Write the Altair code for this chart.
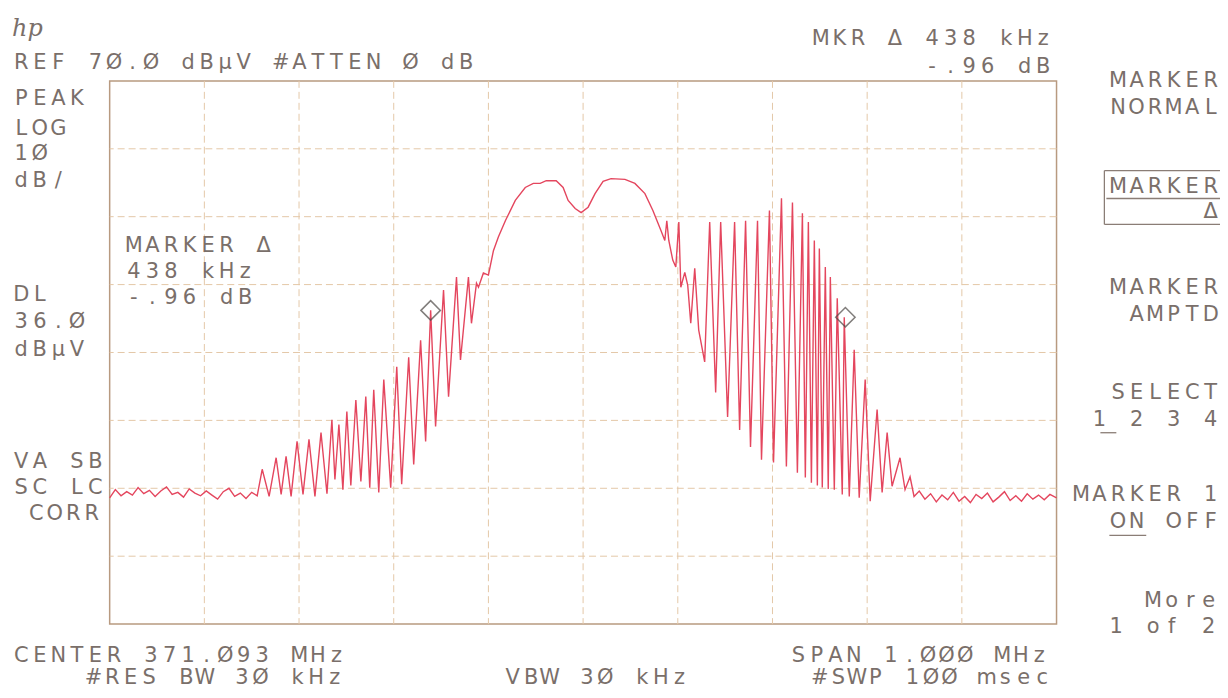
import altair as alt
import pandas as pd

# ---- trace (offset from centre in kHz, level in dBuV) ----
freq_khz = [
    -500, -494, -488, -482, -476, -470, -464, -458, -452, -446, -440, -434, -428,
    -422, -416, -410, -404, -398, -392, -386, -380, -374, -368, -362, -356, -350,
    -344.2, -338.9, -331.6, -324.2, -318.9, -313.7, -308.4, -302.1, -295.8, -289.5,
    -283.2, -276.8, -270.5, -265.3, -262.1, -257.9, -253.7, -249.5, -245.3, -240.0,
    -234.7, -229.5, -225.3, -221.1, -215.8, -210.5, -203.2, -196.8, -191.6, -184.2,
    -178.9, -171.6, -166.3, -161.0, -155.8, -147.4, -142.1, -133.7, -129.5, -121.1,
    -117.9, -112.6,
    -110.5, -105.3, -100.0, -94.7, -89.5, -82.1, -71.6, -61.1, -52.6, -45.3,
    -38.9, -28.4, -21.1, -15.8, -8.4, -2.1, 5.3, 12.6, 21.1, 29.5,
    44.2, 54.7, 65.3, 73.7, 82.1, 86.3, 88.4, 90.5, 94.7, 97.9,
    101.1, 103.2, 107.4, 110.5, 113.7, 117.9, 122.1, 128.4,
    133.7, 140.0, 145.3, 152.6, 160.0, 165.3, 171.6, 176.8, 184.2, 188.4,
    196.8, 201.1, 209.5, 214.7, 221.1, 226.3, 231.6, 234.7, 237.9, 241.1,
    244.2, 247.4, 249.5, 252.6, 255.8, 258.9, 261.1, 265.3, 268.4, 273.7,
    275.8, 281.1, 286.3, 291.6, 297.9, 303.2, 310.5, 315.8, 321.1, 326.3,
    334.7, 340.0, 345.3, 349.5,
    355, 361, 367, 373, 379, 385, 391, 397, 403, 409, 415, 421, 427, 433, 439,
    445, 451, 457, 463, 469, 475, 481, 487, 493, 500,
]
level_dbuv = [
    8.6, 9.8, 8.9, 9.5, 9.0, 10.1, 9.2, 9.7, 8.8, 9.6, 10.2, 9.1, 9.4,
    8.7, 9.9, 9.3, 8.9, 9.6, 9.0, 8.4, 9.5, 10.0, 8.8, 9.3, 8.5, 9.4,
    8.9, 12.8, 8.8, 14.5, 9.1, 14.7, 8.8, 16.9, 9.1, 17.2,
    8.8, 18.2, 9.2, 20.1, 11.3, 19.4, 9.8, 21.3, 10.4, 23.0,
    11.0, 23.5, 10.1, 24.5, 9.4, 26.0, 10.1, 27.9, 10.6, 29.3,
    13.5, 31.8, 16.9, 36.2, 19.1, 39.2, 23.5, 41.1, 28.9, 41.1,
    34.3, 40.2,
    39.6, 41.7, 41.4, 45.0, 47.0, 49.4, 52.4, 54.3, 54.9, 54.9,
    55.3, 55.3, 54.3, 52.4, 51.2, 50.6, 51.4, 53.4, 55.2, 55.6,
    55.5, 54.9, 53.4, 50.9, 48.0, 46.5, 49.4, 46.5, 43.6, 42.6,
    49.2, 39.6, 41.8, 39.9, 34.3, 42.4, 33.3, 28.6,
    49.2, 24.1, 49.2, 20.5, 49.2, 18.6, 49.4, 16.1, 49.4, 14.2,
    50.9, 13.8, 52.7, 13.2, 52.1, 12.3, 50.5, 11.6, 49.2, 10.8,
    46.5, 10.4, 45.3, 10.1, 42.6, 9.9, 41.1, 9.8, 38.0, 9.1,
    35.2, 8.8, 30.4, 8.6, 26.0, 8.1, 21.6, 9.4, 18.2, 10.3,
    14.5, 9.8, 11.7, 8.8,
    9.6, 8.4, 9.2, 8.0, 9.0, 8.3, 9.4, 8.1, 8.8, 7.9, 9.1, 8.5, 9.3, 8.0, 8.7,
    9.5, 8.2, 8.9, 8.1, 9.2, 8.4, 9.0, 8.3, 9.1, 8.6,
]

marker_freq = [-161, 277]
marker_level = [36.2, 35.2]

x_ticks = list(range(-400, 401, 100))
y_ticks = list(range(0, 61, 10))

# ---- annotation texts (text, page x, page y, anchor) ----
text_lines = [
    ("REF 7Ø.Ø dBµV #ATTEN Ø dB", 12, 62, "left"),
    ("MKR Δ 438 kHz", 1056, 38, "right"),
    ("-.96 dB", 1056, 66, "right"),
    ("PEAK", 12, 98, "left"),
    ("LOG", 12, 128, "left"),
    ("1Ø", 12, 153, "left"),
    ("dB/", 12, 180, "left"),
    ("DL", 12, 295, "left"),
    ("36.Ø", 12, 322, "left"),
    ("dBµV", 12, 350, "left"),
    ("VA SB", 12, 462, "left"),
    ("SC LC", 12, 488, "left"),
    ("CORR", 27, 515, "left"),
    ("MARKER Δ", 125, 246, "left"),
    ("438 kHz", 125, 272, "left"),
    ("-.96 dB", 125, 298, "left"),
    ("MARKER", 1224, 80, "right"),
    ("NORMAL", 1224, 107, "right"),
    ("MARKER", 1224, 186, "right"),
    ("Δ", 1224, 212, "right"),
    ("MARKER", 1224, 288, "right"),
    ("AMPTD", 1224, 315, "right"),
    ("SELECT", 1224, 393, "right"),
    ("1 2 3 4", 1224, 420, "right"),
    ("MARKER 1", 1224, 496, "right"),
    ("ON OFF", 1224, 523, "right"),
    ("More", 1222, 602, "right"),
    ("1 of 2", 1222, 628, "right"),
    ("CENTER 371.Ø93 MHz", 12, 657, "left"),
    ("#RES BW 3Ø kHz", 345, 679, "right"),
    ("VBW 3Ø kHz", 505, 679, "left"),
    ("SPAN 1.ØØØ MHz", 1052, 657, "right"),
    ("#SWP 1ØØ msec", 1055, 679, "right"),
]

CELL = 18.6
X0, Y0 = 110, 80
W, H = 950, 545

rows = []
for txt, px, py, anchor in text_lines:
    start = px if anchor == "left" else px - len(txt) * CELL
    for i, ch in enumerate(txt):
        if ch != " ":
            rows.append({"ch": ch, "px": start + (i + 0.5) * CELL - X0, "py": py - Y0})
text_df = pd.DataFrame(rows)

# box / underline segments of the softkey labels (page px)
segments = [
    (1108, 170, 1226, 170), (1108, 224, 1226, 224),
    (1108, 170, 1108, 224), (1226, 170, 1226, 224),
    (1110, 198, 1226, 198),
    (1104, 433, 1120, 433),
    (1113, 536, 1150, 536),
]
seg_df = pd.DataFrame(
    [{"x1": a - X0, "y1": b - Y0, "x2": c - X0, "y2": d - Y0} for a, b, c, d in segments]
)

trace_df = pd.DataFrame({"f": freq_khz, "L": level_dbuv})
mark_df = pd.DataFrame({"f": marker_freq, "L": marker_level})

x_scale = alt.Scale(domain=[-500, 500], nice=False, zero=False)
y_scale = alt.Scale(domain=[-10, 70], nice=False, zero=False)
GRID = "#e4c8a8"

vgrid = alt.Chart(pd.DataFrame({"f": x_ticks})).mark_rule(
    color=GRID, strokeDash=[7, 4], strokeWidth=1
).encode(x=alt.X("f:Q", scale=x_scale, axis=None))
hgrid = alt.Chart(pd.DataFrame({"L": y_ticks})).mark_rule(
    color=GRID, strokeDash=[7, 4], strokeWidth=1
).encode(y=alt.Y("L:Q", scale=y_scale, axis=None))

trace = alt.Chart(trace_df).mark_line(color="#e4465e", strokeWidth=1.4).encode(
    x=alt.X("f:Q", scale=x_scale, axis=None),
    y=alt.Y("L:Q", scale=y_scale, axis=None),
)
markers = alt.Chart(mark_df).mark_point(
    shape="diamond", filled=False, size=380, color="#4d4845", strokeWidth=1.5
).encode(
    x=alt.X("f:Q", scale=x_scale, axis=None),
    y=alt.Y("L:Q", scale=y_scale, axis=None),
)
data_layer = alt.layer(vgrid, hgrid, trace, markers)

labels = alt.Chart(text_df).mark_text(
    font="DejaVu Sans", fontSize=21, color="#7a6f6a", baseline="middle", align="center"
).encode(
    x=alt.X("px:Q", scale=None, axis=None),
    y=alt.Y("py:Q", scale=None, axis=None),
    text="ch:N",
)
lines = alt.Chart(seg_df).mark_rule(color="#8a7d76", strokeWidth=1.3).encode(
    x=alt.X("x1:Q", scale=None, axis=None),
    x2="x2:Q",
    y=alt.Y("y1:Q", scale=None, axis=None),
    y2="y2:Q",
)
logo = alt.Chart(pd.DataFrame({"t": ["hp"]})).mark_text(
    font="DejaVu Serif", fontSize=24, fontStyle="italic", color="#7a6f6a",
    align="left", baseline="middle"
).encode(x=alt.value(12 - X0), y=alt.value(28 - Y0), text="t:N")

chart = (
    alt.layer(data_layer, labels, lines, logo)
    .resolve_scale(x="independent", y="independent")
    .properties(
        width=W, height=H,
        autosize=alt.AutoSizeParams(type="none"),
        padding={"left": 102, "top": 72, "right": 164, "bottom": 65},
        background="#ffffff",
    )
    .configure_view(stroke="#b89a80", strokeWidth=1.5)
)

chart.save("out.html", embed_options={"renderer": "svg", "actions": False})
